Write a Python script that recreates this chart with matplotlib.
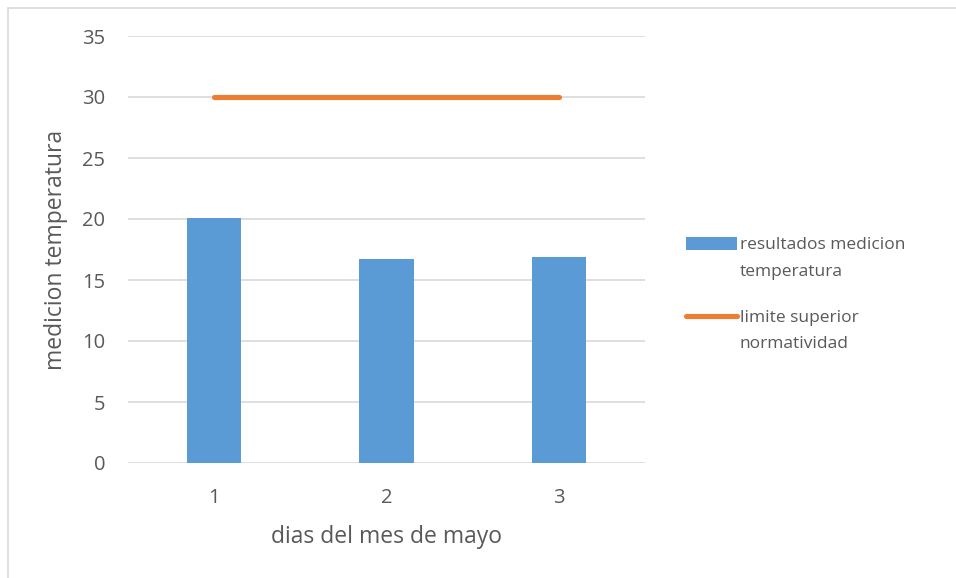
import matplotlib.pyplot as plt
from matplotlib.patches import Rectangle

dias = [1, 2, 3]
resultados = [20.1, 16.7, 16.9]
limite = [30, 30, 30]
y_ticks = [0, 5, 10, 15, 20, 25, 30, 35]

plt.rcParams['font.family'] = ['Open Sans', 'DejaVu Sans']
txt = '#595959'

fig = plt.figure(figsize=(9.56, 5.78), dpi=100)
ax = fig.add_axes([128 / 956, 1 - 463 / 578, 517 / 956, 427 / 578])

# outer chart border, left and top edges only visible
fig.patches.append(Rectangle((7.5 / 956, -0.5), 1.5, 1.5 - 7.5 / 578,
                             transform=fig.transFigure, fill=False,
                             edgecolor='#d9d9d9', linewidth=1.2))

barras = ax.bar(dias, resultados, width=0.314, color='#5b9bd5',
                label='resultados medicion\ntemperatura', zorder=3)
linea, = ax.plot(dias, limite, color='#ed7d31', linewidth=3.7,
                 solid_capstyle='round',
                 label='limite superior\nnormatividad', zorder=4)

ax.set_xlim(0.5, 3.5)
ax.set_ylim(0, 35)
ax.set_yticks(y_ticks)
ax.set_xticks(dias)
ax.grid(axis='y', color='#d9d9d9', linewidth=1.2, zorder=0)
ax.set_axisbelow(True)
for s in ax.spines.values():
    s.set_visible(False)
ax.tick_params(length=0, labelsize=14.5, labelcolor=txt)
ax.tick_params(axis='y', pad=16.5)
ax.tick_params(axis='x', pad=18)

ax.set_xlabel('dias del mes de mayo', fontsize=16.5, color=txt, labelpad=12)
ax.set_ylabel('medicion temperatura', fontsize=16.5, color=txt, labelpad=10)

leg = ax.legend(handles=[barras, linea], loc='upper left',
                bbox_to_anchor=(686 / 956, 1 - 237 / 578),
                bbox_transform=fig.transFigure, frameon=False,
                fontsize=12.5, labelcolor=txt, handlelength=2.95,
                handletextpad=0.15, labelspacing=1.72, handleheight=0.75,
                borderpad=0, borderaxespad=0)
for t in leg.get_texts():
    t.set_linespacing(1.9)
# put each legend key next to the first line of its label
for col in leg._legend_handle_box.get_children():
    for item in col.get_children():
        item.align = 'top'

fig.savefig('out.png', dpi=100)
